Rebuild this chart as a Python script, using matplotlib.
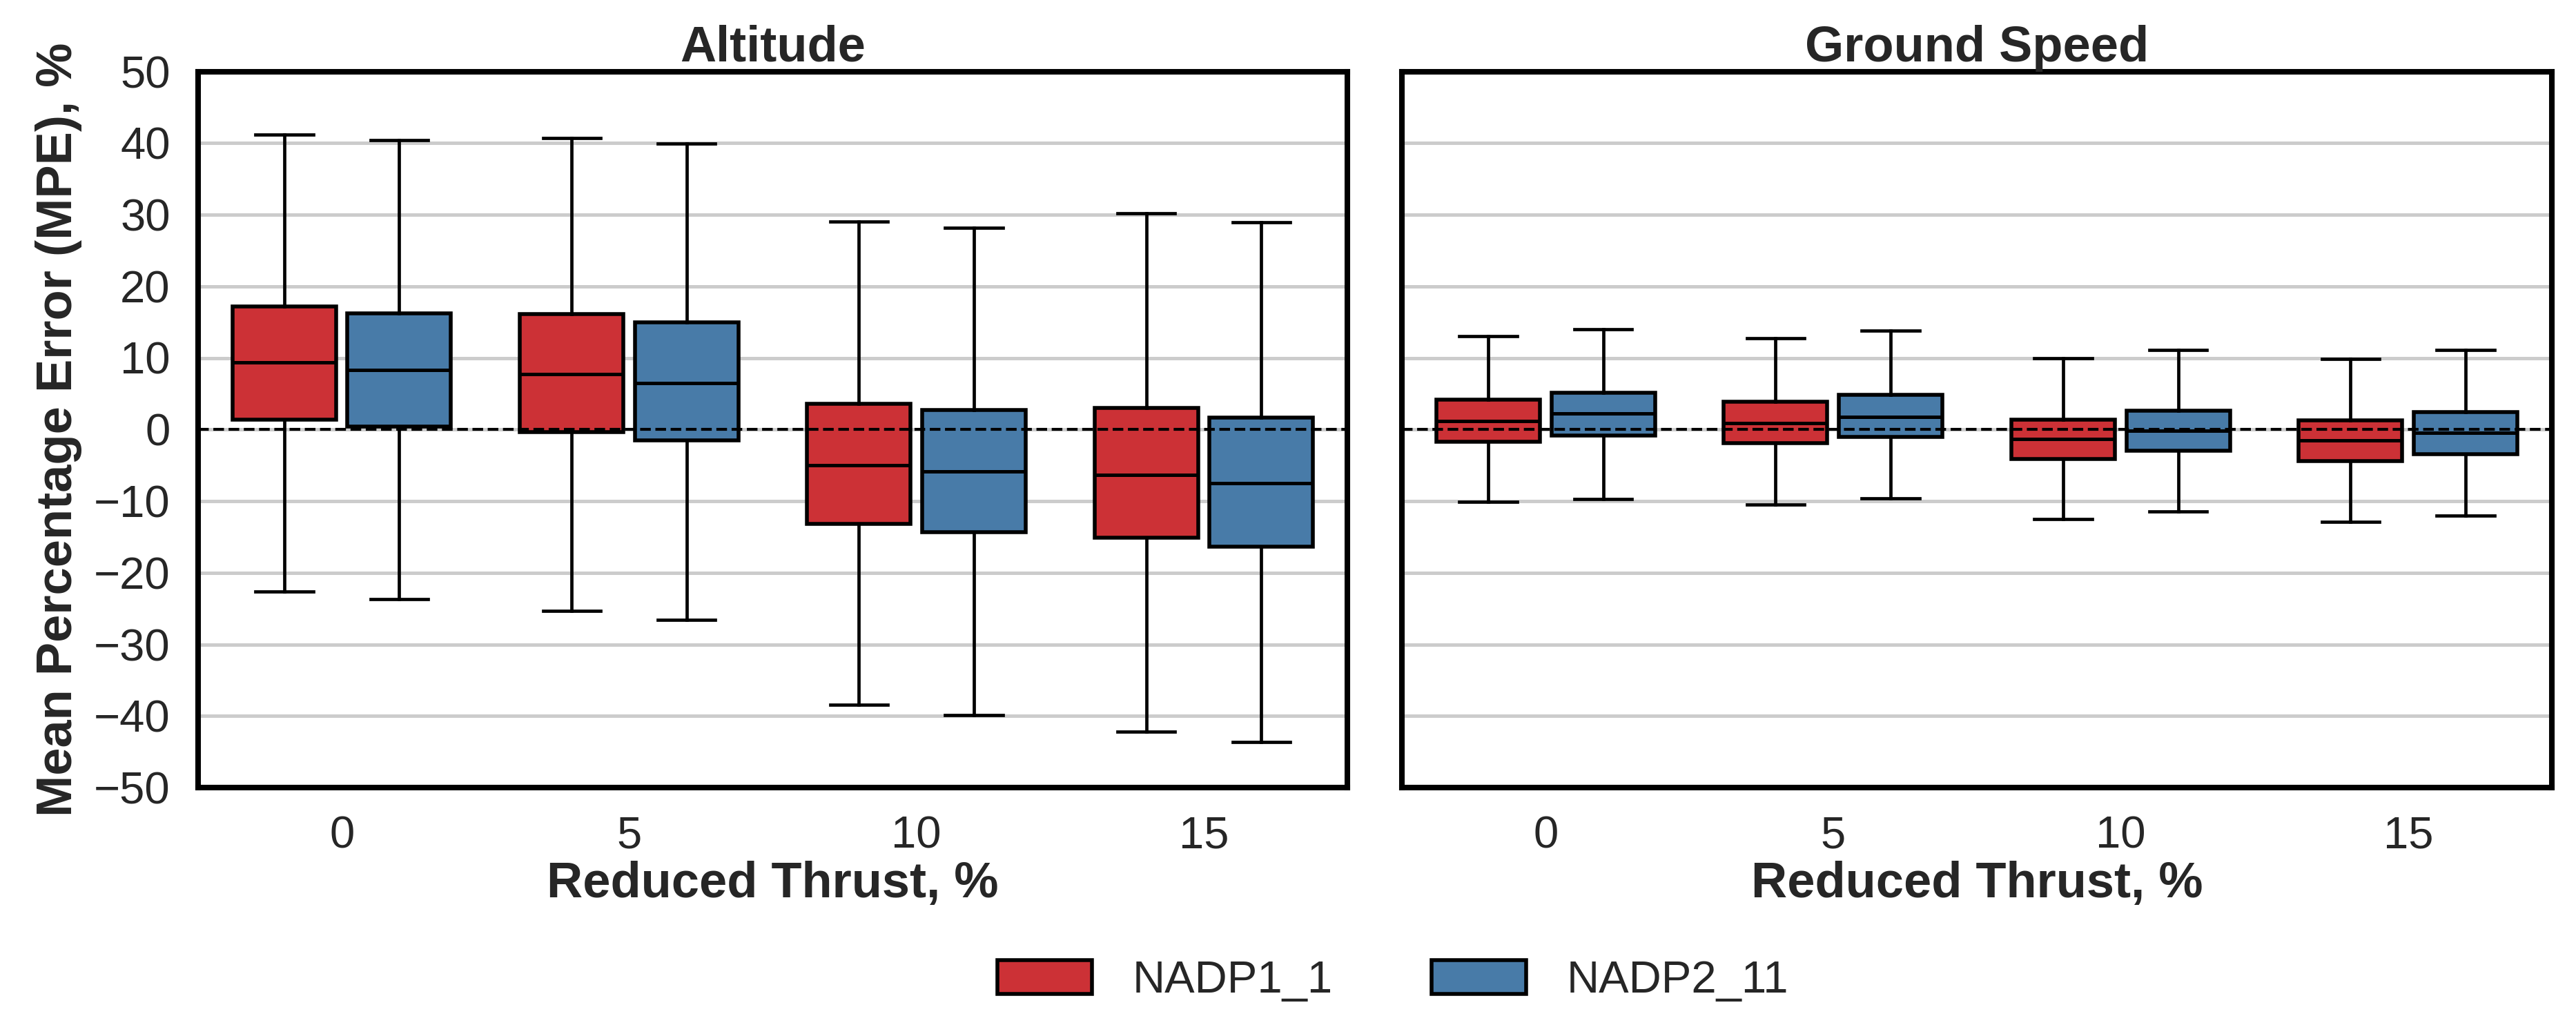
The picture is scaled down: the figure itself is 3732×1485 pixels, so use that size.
import matplotlib
matplotlib.use("Agg")
import matplotlib.pyplot as plt
from matplotlib.patches import Patch

plt.rcParams['font.family'] = ['Liberation Sans', 'DejaVu Sans']

categories = ["0", "5", "10", "15"]
series = ["NADP1_1", "NADP2_11"]
colors = ["#cc3136", "#487ba8"]

# Altitude panel (MPE, %)
alt_n1_lo = [-22.6, -25.3, -38.4, -42.2]
alt_n1_q1 = [1.4, -0.4, -13.2, -15.1]
alt_n1_med = [9.4, 7.7, -5.0, -6.3]
alt_n1_q3 = [17.2, 16.1, 3.6, 3.0]
alt_n1_hi = [41.2, 40.7, 29.0, 30.2]

alt_n2_lo = [-23.7, -26.6, -39.9, -43.6]
alt_n2_q1 = [0.4, -1.5, -14.3, -16.4]
alt_n2_med = [8.3, 6.5, -5.9, -7.5]
alt_n2_q3 = [16.2, 15.0, 2.7, 1.7]
alt_n2_hi = [40.4, 39.9, 28.2, 28.9]

# Ground speed panel (MPE, %)
gs_n1_lo = [-10.1, -10.5, -12.5, -12.9]
gs_n1_q1 = [-1.7, -1.9, -4.1, -4.4]
gs_n1_med = [1.2, 0.9, -1.3, -1.5]
gs_n1_q3 = [4.2, 3.9, 1.4, 1.3]
gs_n1_hi = [13.0, 12.7, 10.0, 9.9]

gs_n2_lo = [-9.7, -9.6, -11.4, -12.0]
gs_n2_q1 = [-0.8, -1.0, -3.0, -3.4]
gs_n2_med = [2.2, 1.8, -0.2, -0.5]
gs_n2_q3 = [5.1, 4.8, 2.6, 2.4]
gs_n2_hi = [14.0, 13.8, 11.1, 11.1]

panels = [
    ("Altitude", [(alt_n1_lo, alt_n1_q1, alt_n1_med, alt_n1_q3, alt_n1_hi),
                  (alt_n2_lo, alt_n2_q1, alt_n2_med, alt_n2_q3, alt_n2_hi)]),
    ("Ground Speed", [(gs_n1_lo, gs_n1_q1, gs_n1_med, gs_n1_q3, gs_n1_hi),
                      (gs_n2_lo, gs_n2_q1, gs_n2_med, gs_n2_q3, gs_n2_hi)]),
]

W, H = 3732, 1485
DPI = 200
fig = plt.figure(figsize=(W / DPI, H / DPI), dpi=DPI)
ax_pos = [
    [287 / W, 1 - 1141 / H, 1665 / W, 1037.5 / H],
    [2031 / W, 1 - 1141 / H, 1666 / W, 1037.5 / H],
]
txt = "#262626"
offsets = [-0.2, 0.2]
for i, (title, data) in enumerate(panels):
    ax = fig.add_axes(ax_pos[i])
    ax.set_axisbelow(True)
    ax.grid(axis='y', color='#cccccc', lw=1.8, zorder=0)
    for s, (lo, q1, med, q3, hi) in enumerate(data):
        stats = []
        for k in range(len(categories)):
            stats.append(dict(whislo=lo[k], q1=q1[k], med=med[k], q3=q3[k], whishi=hi[k], fliers=[]))
        pos = [k + offsets[s] for k in range(len(categories))]
        ax.bxp(stats, positions=pos, widths=0.36, capwidths=0.2, patch_artist=True,
               showfliers=False, manage_ticks=False,
               boxprops=dict(facecolor=colors[s], edgecolor='black', lw=2.0),
               medianprops=dict(color='black', lw=1.8),
               whiskerprops=dict(color='black', lw=1.7),
               capprops=dict(color='black', lw=1.7))
    ax.axhline(0, color='black', ls='--', lw=1.5, zorder=5)
    ax.set_xlim(-0.5, len(categories) - 0.5)
    ax.set_ylim(-50, 50)
    ax.set_yticks(range(-50, 51, 10))
    ax.set_xticks(range(len(categories)))
    ax.set_xticklabels(categories)
    ax.tick_params(length=0, labelsize=23.5, colors=txt, pad=14.5)
    for sp in ax.spines.values():
        sp.set_color('black')
        sp.set_linewidth(2.9)
    ax.set_title(title, fontsize=26, fontweight='bold', color=txt, pad=3)
    ax.set_xlabel("Reduced Thrust, %", fontsize=26, fontweight='bold', color=txt, labelpad=2)
    if i == 0:
        ax.set_ylabel("Mean Percentage Error (MPE), %", fontsize=26, fontweight='bold', color=txt)
        ax.yaxis.set_label_coords(-0.101, 0.5)
    else:
        ax.set_yticklabels([])

handles = [Patch(facecolor=colors[s], edgecolor='black', lw=2.0, label=series[s]) for s in range(len(series))]
fig.legend(handles=handles, loc='center', bbox_to_anchor=(2018 / W, 1 - 1421 / H), ncol=2,
           frameon=False, fontsize=23.5, handlelength=2.1, handleheight=0.77,
           handletextpad=0.9, columnspacing=2.2, labelcolor=txt)

fig.savefig("out.png", dpi=DPI)
